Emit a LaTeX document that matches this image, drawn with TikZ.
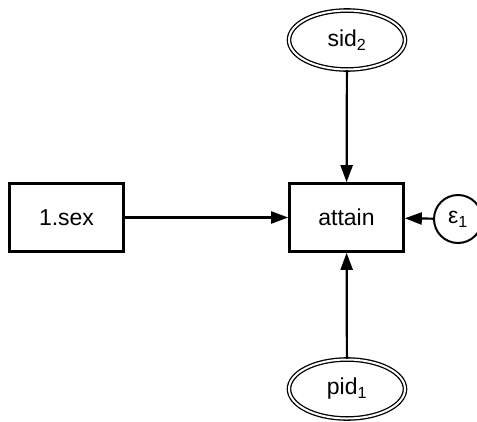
\documentclass[tikz,border=0pt]{standalone}
\usepackage{fontspec}
\setmainfont{Liberation Sans}
\usetikzlibrary{arrows.meta,shapes.geometric}
\tikzset{
    obsvar/.style={draw, line width=2.6pt, rectangle, minimum width=114pt, minimum height=68pt, inner sep=0pt},
    latvar/.style={draw, ellipse, line width=1.3pt, double, double distance=2pt, minimum width=116pt, minimum height=59pt, inner sep=0pt},
    errvar/.style={draw, circle, line width=2pt, minimum size=48pt, inner sep=0pt},
    path/.style={line width=2.2pt, -{Triangle[length=17pt,width=12pt]}}
}
\begin{document}
\begin{tikzpicture}[x=1pt, y=-1pt, font=\fontsize{23}{28}\selectfont]
            \useasboundingbox (0, 0) rectangle (477, 421);

            % variables
            \node[obsvar] (sex) at (66.5, 217.5) {1.sex};
            \node[obsvar] (attain) at (346.5, 217.5) {attain};
            \node[latvar] (sid) at (347, 40) {sid\textsubscript{2}};
            \node[latvar] (pid) at (347, 389) {pid\textsubscript{1}};
            \node[errvar] (eps) at (458, 219) {ε\textsubscript{1}};

            % paths
            \draw[path] (sex) -- (attain);
            \draw[path] (sid) -- (attain);
            \draw[path] (pid) -- (attain);
            \draw[path] (eps) -- (attain);
        \end{tikzpicture}
\end{document}
